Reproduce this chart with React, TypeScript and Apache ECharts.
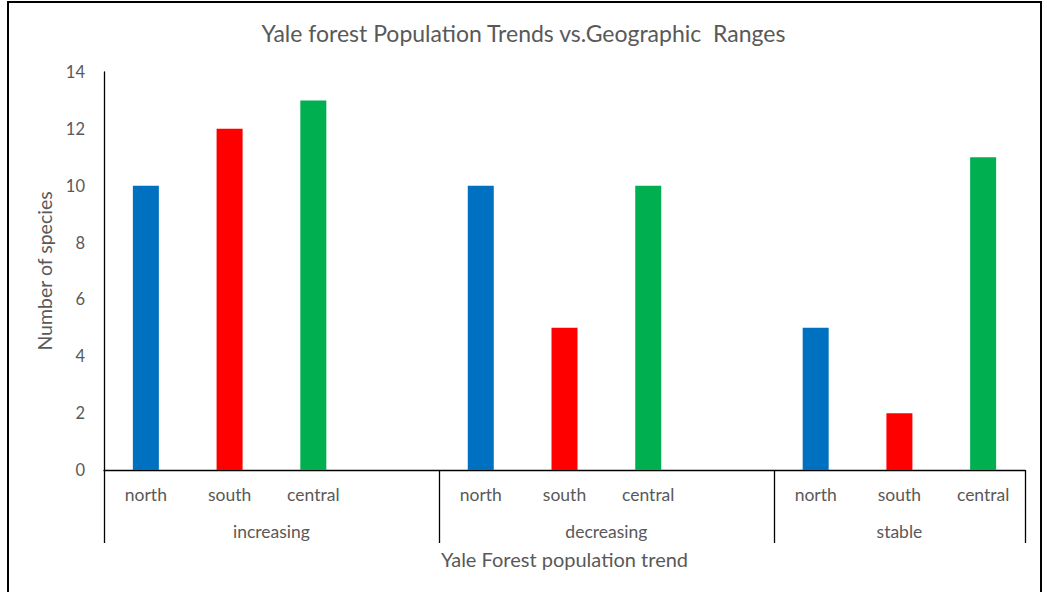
import React, { useEffect, useRef } from "react";
import * as echarts from "echarts";

const title = "Yale forest Population Trends vs.Geographic  Ranges";
const groups = ["increasing", "decreasing", "stable"];
const regions = ["north", "south", "central"];
const northValues = [10, 10, 5];
const southValues = [12, 5, 2];
const centralValues = [13, 10, 11];
const regionColors = ["#0070C0", "#FF0000", "#00B050"];
const yTicks = [0, 2, 4, 6, 8, 10, 12, 14];
const xAxisTitle = "Yale Forest population trend";
const yAxisTitle = "Number of species";

const FONT = "Lato, 'Open Sans', sans-serif";
const GRAY = "#595959";

export default function App() {
  const ref = useRef<HTMLDivElement>(null);
  useEffect(() => {
    if (!ref.current) return;
    const chart = echarts.init(ref.current, undefined, { renderer: "svg" });

    const valuesByRegion = [northValues, southValues, centralValues];
    const categories: string[] = [];
    const data: any[] = [];
    groups.forEach((g, gi) => {
      regions.forEach((r, ri) => {
        categories.push(r);
        data.push({ value: valuesByRegion[ri][gi], itemStyle: { color: regionColors[ri] } });
      });
      if (gi < groups.length - 1) {
        categories.push("");
        data.push("-");
      }
    });
    const nSlots = categories.length;

    // second-level axis: half-slot positions, boundaries and group centers
    const halfCats: string[] = [];
    for (let i = 0; i <= nSlots * 2; i++) halfCats.push(String(i));
    const boundaryIdx: number[] = [0];
    const groupLabelAt: Record<number, string> = {};
    let start = 0;
    groups.forEach((g, gi) => {
      const size = gi < groups.length - 1 ? regions.length + 1 : regions.length;
      const end = start + size;
      groupLabelAt[start + end] = g;
      boundaryIdx.push(end * 2);
      start = end;
    });

    chart.setOption({
      animation: false,
      textStyle: { fontFamily: FONT },
      title: {
        text: title,
        left: "center",
        top: 16,
        textStyle: { fontFamily: FONT, fontSize: 23, fontWeight: "normal", color: GRAY },
      },
      grid: { left: 104, right: 22, top: 72, bottom: 122, containLabel: false },
      xAxis: [
        {
          type: "category",
          data: categories,
          axisLine: { show: true, lineStyle: { color: "#000", width: 1.3 } },
          axisTick: { show: false },
          axisLabel: { fontFamily: FONT, fontSize: 17.5, color: GRAY, margin: 15, interval: 0 },
          splitLine: { show: false },
        },
        {
          type: "category",
          position: "bottom",
          data: halfCats.map((c, i) => groupLabelAt[i] || ""),
          boundaryGap: false,
          axisLine: { show: false },
          axisTick: {
            show: true,
            length: 73,
            interval: (i: number) => boundaryIdx.indexOf(i) >= 0,
            lineStyle: { color: "#000", width: 1.3 },
          },
          axisLabel: {
            fontFamily: FONT,
            fontSize: 17.5,
            color: GRAY,
            margin: 52,
            interval: (i: number) => !!groupLabelAt[i],
          },
          name: xAxisTitle,
          nameLocation: "middle",
          nameGap: 79,
          nameTextStyle: { fontFamily: FONT, fontSize: 20, color: GRAY },
        },
      ],
      yAxis: {
        type: "value",
        min: yTicks[0],
        max: yTicks[yTicks.length - 1],
        interval: 2,
        axisLine: { show: true, lineStyle: { color: "#000", width: 1.3 } },
        axisTick: { show: false },
        splitLine: { show: false },
        axisLabel: { fontFamily: FONT, fontSize: 16.5, color: GRAY, margin: 19 },
        name: yAxisTitle,
        nameLocation: "middle",
        nameRotate: 90,
        nameGap: 49,
        nameTextStyle: { fontFamily: FONT, fontSize: 19.5, color: GRAY },
      },
      series: [
        {
          type: "bar",
          xAxisIndex: 0,
          data,
          barWidth: 26,
        },
      ],
      graphic: [
        {
          type: "rect",
          shape: { x: 8, y: 2, width: 1033, height: 610 },
          style: { fill: "none", stroke: "#000", lineWidth: 2 },
          silent: true,
        },
      ],
    });
    return () => chart.dispose();
  }, []);
  return (
    <div
      ref={ref}
      style={{ position: "absolute", left: 0, top: 0, width: 1047, height: 592, background: "#fff" }}
    />
  );
}
